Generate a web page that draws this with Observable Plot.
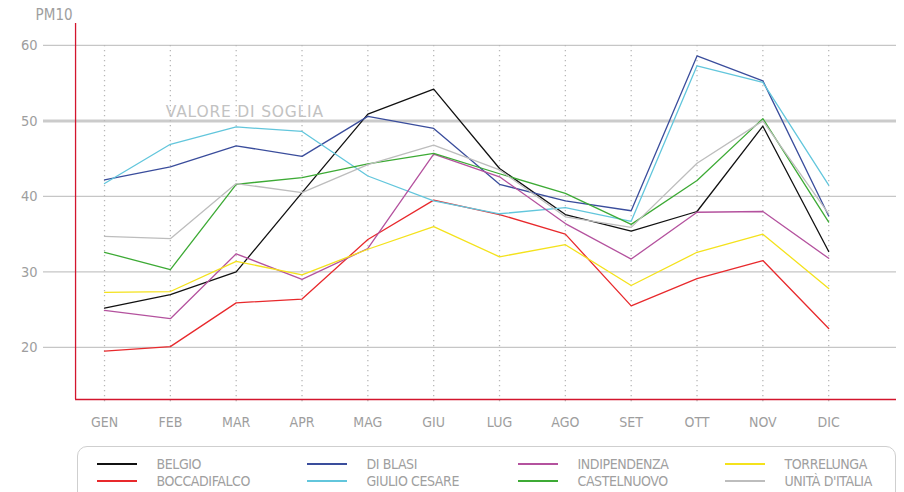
<!DOCTYPE html>
<html>
<head>
<meta charset="utf-8">
<script src="https://cdn.jsdelivr.net/npm/d3@7"></script>
<script src="https://cdn.jsdelivr.net/npm/@observablehq/plot@0.6"></script>
<style>
  html, body { margin: 0; padding: 0; background: #fff; }
  #wrap { position: relative; width: 904px; height: 492px; overflow: hidden; }
  #legend { position: absolute; left: 77px; top: 446px; width: 819px; height: 70px;
    border: 1.5px solid #cfcfcf; border-radius: 10px; box-sizing: border-box; }
  .item { position: absolute; height: 16px; }
  .item .sw { position: absolute; left: 0; top: 7px; width: 40px; height: 1.5px; }
  .item .lb { position: absolute; left: 60px; top: 0; font-family: "DejaVu Sans Condensed", sans-serif;
    font-size: 14px; letter-spacing: -0.4px; color: #a0a0a0; line-height: 16px; white-space: nowrap; }
</style>
</head>
<body>
<div id="wrap"><div id="chart"></div><div id="legend"></div></div>
<script>
const months = ["GEN","FEB","MAR","APR","MAG","GIU","LUG","AGO","SET","OTT","NOV","DIC"];
const yTicks = [20, 30, 40, 50, 60];
const threshold = 50;
const thresholdLabel = "VALORE DI SOGLIA";
const yLabel = "PM10";

const seriesNames = ["BELGIO","BOCCADIFALCO","DI BLASI","GIULIO CESARE","INDIPENDENZA","CASTELNUOVO","TORRELUNGA","UNITÀ D'ITALIA"];
const seriesColors = ["#111111","#e8292c","#3a4d9c","#62c6dc","#b4529e","#3daa35","#f4e21c","#bdbdbd"];

const belgio       = [25.2, 27.0, 30.0, 40.5, 50.9, 54.2, 43.7, 37.6, 35.4, 38.0, 49.3, 32.7];
const boccadifalco = [19.5, 20.1, 25.9, 26.4, 34.3, 39.5, 37.6, 35.0, 25.5, 29.1, 31.5, 22.5];
const diBlasi      = [42.2, 43.9, 46.7, 45.3, 50.6, 49.0, 41.6, 39.4, 38.1, 58.6, 55.3, 37.4];
const giulioCesare = [41.7, 46.9, 49.2, 48.6, 42.7, 39.4, 37.7, 38.5, 36.7, 57.3, 55.1, 41.5];
const indipendenza = [24.9, 23.8, 32.4, 29.0, 33.1, 45.6, 42.6, 36.4, 31.7, 37.9, 38.0, 31.8];
const castelnuovo  = [32.6, 30.3, 41.6, 42.5, 44.3, 45.7, 43.0, 40.4, 36.3, 42.1, 50.3, 36.6];
const torrelunga   = [27.3, 27.4, 31.4, 29.6, 33.0, 36.0, 32.0, 33.6, 28.2, 32.6, 35.0, 27.8];
const unitaItalia  = [34.7, 34.4, 41.7, 40.5, 44.2, 46.8, 43.5, 37.3, 35.9, 44.4, 50.0, 37.7];

const seriesValues = [belgio, boccadifalco, diBlasi, giulioCesare, indipendenza, castelnuovo, torrelunga, unitaItalia];

const rows = [];
seriesValues.forEach((vals, s) => vals.forEach((v, i) => rows.push({serie: seriesNames[s], i, v})));

const xDomain = [-0.927, 12.03];
const yDomain = [13.1, 62.9];
const axisX = -0.44;
const red = "#d3152d";
const labelGray = "#9e9e9e";

const plot = Plot.plot({
  width: 904, height: 440,
  marginTop: 23, marginBottom: 41, marginLeft: 43, marginRight: 8,
  style: {fontFamily: "'DejaVu Sans Condensed', sans-serif"},
  x: {type: "linear", domain: xDomain, axis: null},
  y: {domain: yDomain, axis: null},
  color: {domain: seriesNames, range: seriesColors},
  marks: [
    Plot.ruleY(yTicks.filter(d => d !== threshold), {stroke: "#c6c6c6", strokeWidth: 1.2}),
    Plot.ruleY([threshold], {stroke: "#cbcbcb", strokeWidth: 3}),
    Plot.ruleX(months.map((m, i) => i), {y1: 60, y2: 12.7, stroke: "#b8b8b8", strokeWidth: 1.3, strokeDasharray: "1.4,3.6"}),
    Plot.text([thresholdLabel], {x: 0.93, y: threshold, dy: -9, textAnchor: "start", fill: "#c2c2c2",
      fontSize: 15.5, fontFamily: "DejaVu Sans"}),
    Plot.line(rows, {x: "i", y: "v", z: "serie", stroke: "serie", strokeWidth: 1.3}),
    Plot.ruleX([axisX], {y1: yDomain[0], y2: yDomain[1], stroke: red, strokeWidth: 1.3}),
    Plot.ruleY([yDomain[0]], {x1: axisX, x2: xDomain[1], stroke: red, strokeWidth: 1.3}),
    Plot.text(yTicks, {x: xDomain[0], y: d => d, text: d => String(d), textAnchor: "end", dx: -6, fill: labelGray, fontSize: 14.5}),
    Plot.text(months, {x: (d, i) => i, y: yDomain[0], dy: 23, text: d => d, fill: labelGray, fontSize: 14}),
    Plot.text([yLabel], {x: axisX, y: yDomain[1], dx: -3, dy: -8, textAnchor: "end", fill: labelGray, fontSize: 15})
  ]
});
d3.select(plot).selectAll("text").filter(function() { return this.textContent === thresholdLabel; })
  .style("letter-spacing", "0.8px");
document.getElementById("chart").appendChild(plot);

const legend = document.getElementById("legend");
const colX = [18.5, 228.5, 439.5, 646.5];
const rowY = [9, 26];
const order = [[0, 1], [2, 3], [4, 5], [6, 7]];
order.forEach((pair, c) => pair.forEach((s, r) => {
  const it = document.createElement("div");
  it.className = "item";
  it.style.left = colX[c] + "px";
  it.style.top = rowY[r] + "px";
  const sw = document.createElement("div");
  sw.className = "sw";
  sw.style.background = seriesColors[s];
  const lb = document.createElement("div");
  lb.className = "lb";
  lb.textContent = seriesNames[s];
  it.appendChild(sw); it.appendChild(lb);
  legend.appendChild(it);
}));
</script>
</body>
</html>
